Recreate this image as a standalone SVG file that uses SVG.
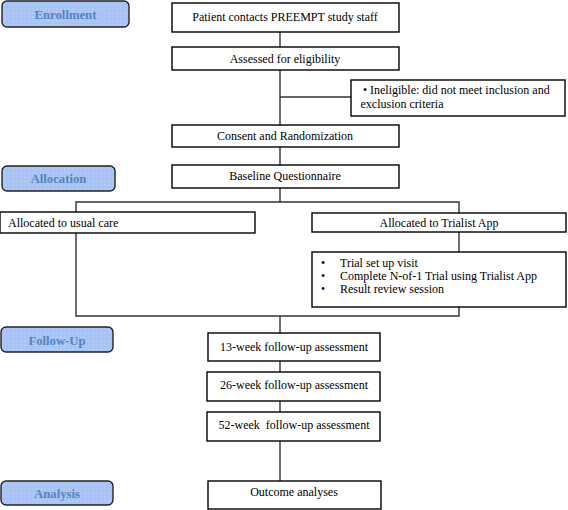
<svg xmlns="http://www.w3.org/2000/svg" width="568" height="510" viewBox="0 0 568 510">
<defs>
<pattern id="dots" width="4" height="4" patternUnits="userSpaceOnUse">
<rect width="4" height="4" fill="#a8c4f6"/>
<circle cx="1" cy="1" r="0.5" fill="#e4eadc"/>
</pattern>
<style>
.box{fill:#fff;stroke:#000;stroke-width:1.4}
.lab{fill:url(#dots);stroke:#222;stroke-width:1.4}
.t{font-family:"Liberation Serif","Times New Roman",serif;font-size:12px;fill:#000}
.c{text-anchor:middle}
.lt{font-family:"Liberation Serif","Times New Roman",serif;font-size:12.7px;font-weight:bold;fill:#5583c0;text-anchor:middle}
.ln{fill:none;stroke:#333;stroke-width:1.4}
</style>
</defs>
<g id="connectors">
<line class="ln" x1="280" y1="32" x2="280" y2="47"/>
<line class="ln" x1="280" y1="70" x2="280" y2="125"/>
<line class="ln" x1="280" y1="97" x2="351" y2="97"/>
<line class="ln" x1="280" y1="147" x2="280" y2="165"/>
<line class="ln" x1="280" y1="188" x2="280" y2="202"/>
<polyline class="ln" points="76,212 76,202 459,202 459,213"/>
<line class="ln" x1="459" y1="232" x2="459" y2="252"/>
<polyline class="ln" points="76,233 76,316 459,316 459,307"/>
<line class="ln" x1="280" y1="316" x2="280" y2="333"/>
<line class="ln" x1="280" y1="361" x2="280" y2="372"/>
<line class="ln" x1="280" y1="401" x2="280" y2="412"/>
<line class="ln" x1="280" y1="441" x2="280" y2="481"/>
</g>
<g id="label-enrollment"><rect class="lab" x="2" y="1" width="127" height="26" rx="5"/><text class="lt" x="65.5" y="18.5">Enrollment</text></g>
<g id="label-allocation"><rect class="lab" x="2" y="166" width="113" height="25" rx="5"/><text class="lt" x="58.5" y="183">Allocation</text></g>
<g id="label-followup"><rect class="lab" x="1" y="327" width="112" height="25" rx="5"/><text class="lt" x="57" y="344.5">Follow-Up</text></g>
<g id="label-analysis"><rect class="lab" x="1" y="481" width="112" height="24" rx="5"/><text class="lt" x="57" y="497.5">Analysis</text></g>
<g id="n-patient"><rect class="box" x="172" y="3" width="227" height="29"/><text class="t c" x="285" y="21">Patient contacts PREEMPT study staff</text></g>
<g id="n-assessed"><rect class="box" x="172" y="47" width="227" height="23"/><text class="t c" x="285" y="63">Assessed for eligibility</text></g>
<g id="n-ineligible"><rect class="box" x="351" y="80" width="214" height="36"/><text class="t" x="363" y="94">•</text><text class="t" x="370" y="94">Ineligible: did not meet inclusion and</text><text class="t" x="360.5" y="108">exclusion criteria</text></g>
<g id="n-consent"><rect class="box" x="172" y="125" width="227" height="22"/><text class="t c" x="285" y="140">Consent and Randomization</text></g>
<g id="n-baseline"><rect class="box" x="172" y="165" width="227" height="23"/><text class="t c" x="285" y="180">Baseline Questionnaire</text></g>
<g id="n-usual"><rect class="box" x="0" y="212" width="255" height="21"/><text class="t" x="8" y="227">Allocated to usual care</text></g>
<g id="n-trialist"><rect class="box" x="312" y="213" width="254" height="19"/><text class="t c" x="439" y="227">Allocated to Trialist App</text></g>
<g id="n-steps"><rect class="box" x="312" y="252" width="254" height="55"/>
<text class="t" x="321" y="267">•</text><text class="t" x="340" y="267">Trial set up visit</text>
<text class="t" x="321" y="280">•</text><text class="t" x="340" y="280">Complete N-of-1 Trial using Trialist App</text>
<text class="t" x="321" y="293">•</text><text class="t" x="340" y="293">Result review session</text></g>
<g id="n-13"><rect class="box" x="208" y="333" width="172" height="28"/><text class="t c" x="294" y="351">13-week follow-up assessment</text></g>
<g id="n-26"><rect class="box" x="207" y="372" width="173" height="29"/><text class="t c" x="294" y="389">26-week follow-up assessment</text></g>
<g id="n-52"><rect class="box" x="207" y="412" width="173" height="29"/><text class="t c" x="294" y="429" xml:space="preserve">52-week  follow-up assessment</text></g>
<g id="n-outcome"><rect class="box" x="208" y="481" width="173" height="28"/><text class="t c" x="294" y="496">Outcome analyses</text></g>
</svg>
